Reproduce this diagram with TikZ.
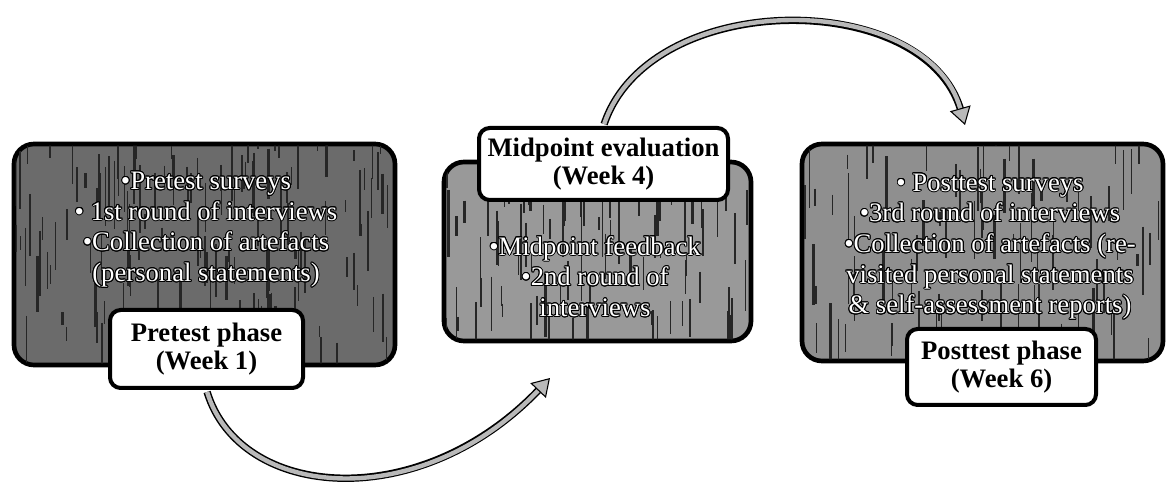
\documentclass[tikz,border=0pt]{standalone}
\usepackage{fontspec}
\setmainfont{Liberation Serif}
\usepackage[copies]{contour}
\contourlength{0.7pt}
\usetikzlibrary{arrows.meta}
\newcommand{\wtxt}[1]{\contour{black}{#1}}

\begin{document}
\begin{tikzpicture}[
  x=0.75pt, y=-0.75pt,
  phase/.style={draw, line width=3.5pt, rounded corners=15pt, inner sep=0pt},
  tag/.style={draw, fill=white, line width=3pt, rounded corners=8pt, align=center,
    font=\fontsize{20}{21}\selectfont\bfseries, inner sep=0pt},
  items/.style={align=center, text=white, font=\fontsize{20}{23}\selectfont},
  arrline/.style={black, line width=5.5pt, shorten >=11pt, shorten <=1.5pt},
  arr/.style={-{Triangle[length=13pt, width=16pt, color=black, fill=gray!55, line width=0.8pt]},
    gray!55, line width=3.3pt, shorten <=1.5pt}
]
\useasboundingbox (0,0) rectangle (1168,484);

% phase boxes
\node[phase, fill=black!58, minimum width=285.75pt, minimum height=165.75pt] (pre) at (204.5,254.5) {};
\node[phase, fill=black!40, minimum width=230.25pt, minimum height=134.25pt] (mid) at (597.5,251.5) {};
\node[phase, fill=black!44, minimum width=270.75pt, minimum height=162.75pt] (post) at (982.5,252.5) {};

% rough texture
\pgfmathsetseed{11}
\foreach \b/\w/\h/\n in {pre/381/221/150, mid/307/179/90, post/361/217/90}{
  \begin{scope}
    \clip[rounded corners=12pt] ([shift={(3pt,-3pt)}]\b.north west) rectangle ([shift={(-3pt,3pt)}]\b.south east);
    \begin{scope}[shift={(\b.north west)}]
      \foreach \k in {1,...,\n}{
        \pgfmathsetmacro\lw{0.3+1.8*rnd}
        \draw[black!85, line width=\lw pt] ({\w*rnd},{\h*rnd-20}) -- ++(0,{10+60*rnd});
      }
    \end{scope}
  \end{scope}
}

% box contents
\node[items] (pretxt) at (206,230) {\wtxt{•Pretest surveys}\\ \wtxt{• 1st round of interviews}\\
  \wtxt{•Collection of artefacts}\\ \wtxt{(personal statements)}};
\node[items] (midtxt) at (595,277) {\wtxt{•Midpoint feedback}\\ \wtxt{•2nd round of}\\ \wtxt{interviews}};
\node[items] (posttxt) at (990,247) {\wtxt{• Posttest surveys}\\ \wtxt{•3rd round of interviews}\\
  \wtxt{•Collection of artefacts (re-}\\ \wtxt{visited personal statements}\\ \wtxt{\& self-assessment reports)}};

% labels
\node[tag, minimum width=144.75pt, minimum height=58.5pt] (prelab) at (206.5,349) {Pretest phase\\(Week 1)};
\node[tag, minimum width=186.75pt, minimum height=54pt] (midlab) at (603.5,164) {Midpoint evaluation\\(Week 4)};
\node[tag, minimum width=141.75pt, minimum height=57pt] (postlab) at (1001.5,367) {Posttest phase\\(Week 6)};

% curved arrows
\coordinate (a1end) at (550,378);
\coordinate (a2end) at (965,125);
\draw[arrline] (prelab.south) .. controls (240,500) and (420,515) .. (a1end);
\draw[arr] (prelab.south) .. controls (240,500) and (420,515) .. (a1end);
\draw[arrline] (midlab.north) .. controls (650,-12) and (926,-12) .. (a2end);
\draw[arr] (midlab.north) .. controls (650,-12) and (926,-12) .. (a2end);
\end{tikzpicture}
\end{document}
